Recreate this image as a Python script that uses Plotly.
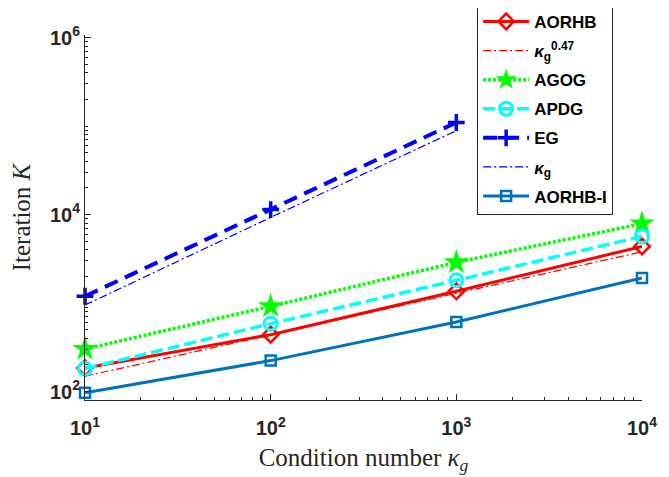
import plotly.graph_objects as go

kappa = [10, 100, 1000, 10000]
kappa_eg = [10, 100, 1000]

aorhb = [185, 440, 1360, 4370]
kappa_047 = [149, 438, 1290, 3800]
agog = [303, 920, 2890, 7910]
apdg = [182, 586, 1810, 5690]
eg = [1195, 11400, 110000]
kappa_line = [950, 9300, 89000]
aorhb_i = [97, 224, 612, 1928]

fig = go.Figure()

fig.add_trace(go.Scatter(
    x=kappa, y=aorhb, name="<b>AORHB</b>", legendgroup="a", mode="lines+markers",
    cliponaxis=False,
    line=dict(color="#ff0000", width=3),
    marker=dict(symbol="diamond-open", size=12, line=dict(width=2.5, color="#ff0000"))))

fig.add_trace(go.Scatter(
    x=kappa, y=kappa_047, name="<b><i>κ</i><sub>g</sub><sup>0.47</sup></b>", legendgroup="b",
    mode="lines", cliponaxis=False,
    line=dict(color="#ff0000", width=1.2, dash="8px,3px,2px,3px")))

fig.add_trace(go.Scatter(
    x=kappa, y=agog, name="<b>AGOG</b>", legendgroup="c", mode="lines+markers",
    cliponaxis=False,
    line=dict(color="#00ff00", width=3.5, dash="3px,2px"),
    marker=dict(symbol="star", size=19, color="#00ff00")))

fig.add_trace(go.Scatter(
    x=kappa, y=apdg, name="<b>APDG</b>", legendgroup="d", mode="lines+markers",
    cliponaxis=False,
    line=dict(color="#00ffff", width=3.5, dash="12px,5px"),
    marker=dict(symbol="circle-open", size=13, line=dict(width=3, color="#00ffff"))))

fig.add_trace(go.Scatter(
    x=kappa_eg, y=eg, name="<b>EG</b>", legendgroup="e", mode="lines+markers",
    cliponaxis=False,
    line=dict(color="#0000ff", width=4, dash="14px,8px"),
    marker=dict(symbol="cross-thin", size=12, line=dict(width=3.5, color="#0000ff"))))

fig.add_trace(go.Scatter(
    x=kappa_eg, y=kappa_line, name="<b><i>κ</i><sub>g</sub></b>", legendgroup="f",
    mode="lines", cliponaxis=False,
    line=dict(color="#0000ff", width=1.2, dash="8px,3px,2px,3px")))

fig.add_trace(go.Scatter(
    x=kappa, y=aorhb_i, name="<b>AORHB-I</b>", legendgroup="g", mode="lines+markers",
    cliponaxis=False,
    line=dict(color="#0072bd", width=3),
    marker=dict(symbol="square-open", size=10, line=dict(width=2.5, color="#0072bd"))))

tickfont = dict(family="Arial, Liberation Sans, sans-serif", size=20, color="#262626")
titlefont = dict(family="Liberation Serif, serif", size=25, color="#262626")

fig.update_xaxes(
    type="log", range=[1, 4], automargin=False,
    tickvals=[10, 100, 1000, 10000],
    ticktext=["<b>10<sup>1</sup></b>", "<b>10<sup>2</sup></b>",
              "<b>10<sup>3</sup></b>", "<b>10<sup>4</sup></b>"],
    ticks="inside", ticklen=6, tickcolor="#262626", ticklabelstandoff=10,
    showline=True, linecolor="#262626", linewidth=1,
    showgrid=False, zeroline=False, tickfont=tickfont,
    minor=dict(ticks="inside", ticklen=3, tickcolor="#262626",
               tickvals=[20, 30, 40, 50, 60, 70, 80, 90,
                         200, 300, 400, 500, 600, 700, 800, 900,
                         2000, 3000, 4000, 5000, 6000, 7000, 8000, 9000]),
    title=dict(text="Condition number <i>κ<sub>g</sub></i>", font=titlefont, standoff=10))

fig.update_yaxes(
    type="log", range=[1.905, 6.03], automargin=False,
    tickvals=[100, 10000, 1000000],
    ticktext=["<b>10<sup>2</sup></b>", "<b>10<sup>4</sup></b>", "<b>10<sup>6</sup></b>"],
    ticks="inside", ticklen=6, tickcolor="#262626",
    showline=True, linecolor="#262626", linewidth=1,
    showgrid=False, zeroline=False, tickfont=tickfont,
    minor=dict(ticks="inside", ticklen=3, tickcolor="#262626",
               tickvals=[200, 300, 400, 500, 600, 700, 800, 900, 1000,
                         2000, 3000, 4000, 5000, 6000, 7000, 8000, 9000,
                         20000, 30000, 40000, 50000, 60000, 70000, 80000, 90000, 100000,
                         200000, 300000, 400000, 500000, 600000, 700000, 800000, 900000]),
    title=dict(text="Iteration <i>K</i>", font=titlefont, standoff=14))

# the page body adds an 8px offset, so the figure is made 16px smaller
fig.update_layout(
    width=661, height=469,
    margin=dict(l=77, r=27, t=27, b=77, autoexpand=False),
    plot_bgcolor="white", paper_bgcolor="white",
    showlegend=True,
    legend=dict(
        x=0.704, y=1.088, xanchor="left", yanchor="top",
        bgcolor="white", bordercolor="#262626", borderwidth=1,
        font=dict(family="Arial, Liberation Sans, sans-serif", size=17, color="black"),
        itemwidth=46, traceorder="grouped", tracegroupgap=4),
)

fig.write_html("out.html")
